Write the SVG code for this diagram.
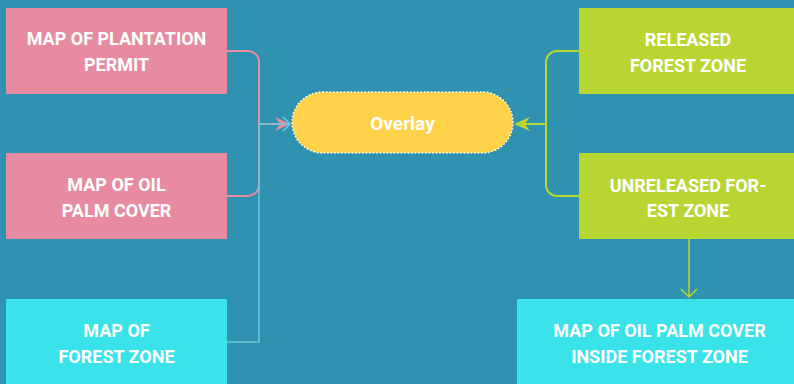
<svg xmlns="http://www.w3.org/2000/svg" width="794" height="384" viewBox="0 0 794 384">
<style>
.t{font-family:Roboto,"Liberation Sans",sans-serif;font-weight:700;font-size:18px;fill:#ffffff;text-anchor:middle}
.pink{fill:#e68ba0}
.green{fill:#b9d532}
.cyan{fill:#3ae3ea}
.c{fill:none;stroke-width:2}
</style>
<rect width="794" height="384" fill="#2e92b0"/>
<g id="connectors">
<path class="c" stroke="#e68ba0" d="M227,51 H248 A11,11 0 0 1 259,62 V185 A11,11 0 0 1 248,196 H227"/>
<path class="c" stroke="#e68ba0" d="M259,124 H284"/>
<path d="M290,124 L275,117 L280,124 L275,131 Z" fill="#e68ba0"/>
<path fill="none" stroke="#6cc6d8" stroke-width="1.5" d="M227,342 H259 V124 H290 M283,117 L290,124 L283,131"/>
<path class="c" stroke="#b9d532" d="M579,51 H557 A11,11 0 0 0 546,62 V185 A11,11 0 0 0 557,196 H579"/>
<path class="c" stroke="#b9d532" d="M546,124 H518"/>
<path d="M514,124 L530,117 L525,124 L530,131 Z" fill="#b9d532"/>
<path fill="none" stroke="#b9d532" stroke-width="1.5" d="M689,239 V297 M681,289 L689,297 L697,289"/>
</g>
<g id="n1"><rect class="pink" x="6" y="8" width="221" height="86"/><text class="t" x="116.5" y="45">MAP OF PLANTATION</text><text class="t" x="116.5" y="71">PERMIT</text></g>
<g id="n2"><rect class="pink" x="6" y="153" width="221" height="86"/><text class="t" x="116.5" y="191">MAP OF OIL</text><text class="t" x="116.5" y="217">PALM COVER</text></g>
<g id="n3"><rect class="cyan" x="6" y="299" width="221" height="90"/><text class="t" x="116.5" y="337">MAP OF</text><text class="t" x="116.5" y="363">FOREST ZONE</text></g>
<g id="n4"><rect x="292" y="92" width="221" height="61" rx="30.5" fill="#ffd24a" stroke="#ffffff" stroke-width="1.5" stroke-dasharray="1.5 2"/><text class="t" x="402.5" y="130" style="font-size:19px">Overlay</text></g>
<g id="n5"><rect class="green" x="579" y="8" width="220" height="86"/><text class="t" x="688" y="46">RELEASED</text><text class="t" x="688" y="72">FOREST ZONE</text></g>
<g id="n6"><rect class="green" x="579" y="153" width="220" height="86"/><text class="t" x="688" y="192">UNRELEASED FOR-</text><text class="t" x="688" y="217">EST ZONE</text></g>
<g id="n7"><rect class="cyan" x="517" y="299" width="290" height="90"/><text class="t" x="659.5" y="337">MAP OF OIL PALM COVER</text><text class="t" x="659.5" y="363">INSIDE FOREST ZONE</text></g>
</svg>
